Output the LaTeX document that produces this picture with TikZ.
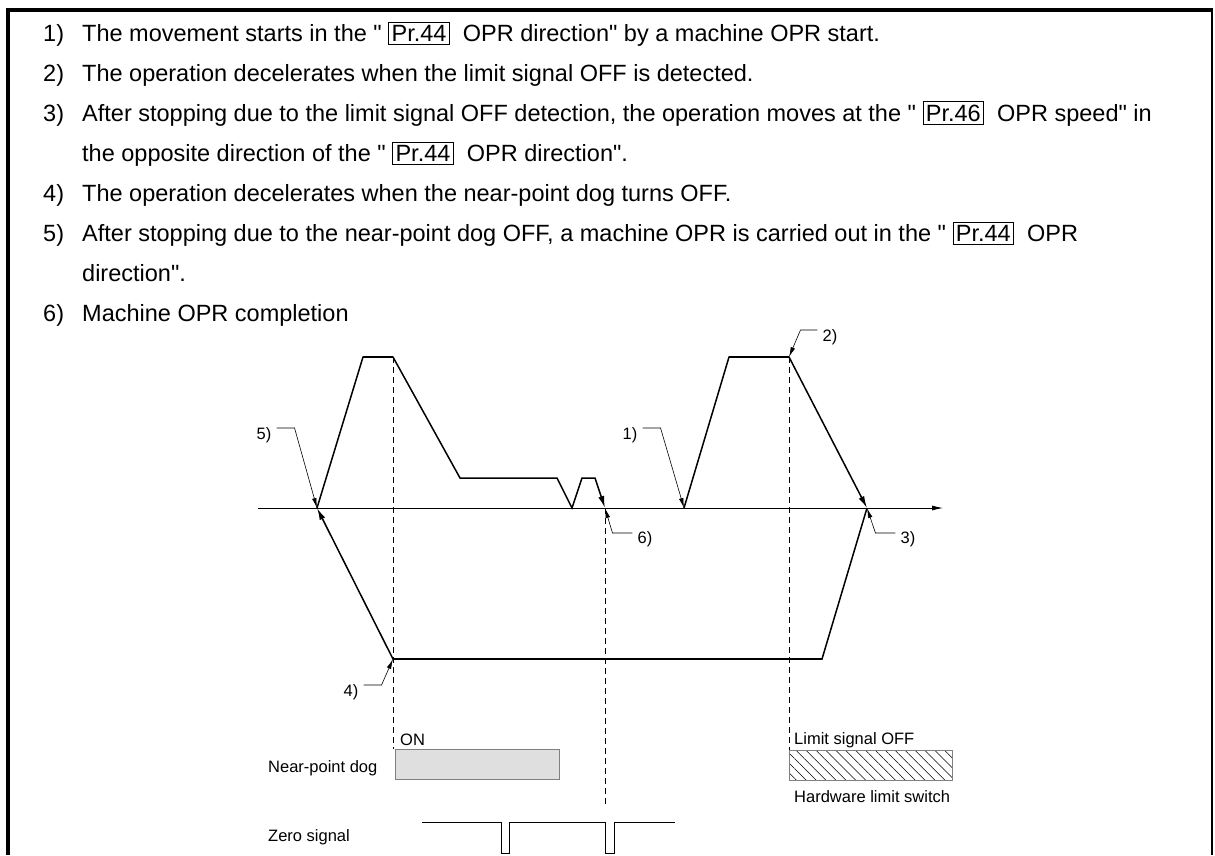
\documentclass[tikz,border=0pt]{standalone}
\usepackage{fontspec}
\setmainfont{Liberation Sans}[Ligatures=TeXOff]
\usepackage{tikz}
\usetikzlibrary{arrows.meta,patterns.meta}

\newcommand{\prbox}[1]{{\setlength{\fboxsep}{2.5pt}\setlength{\fboxrule}{0.8pt}\fbox{Pr.#1}}}

\begin{document}
\begin{tikzpicture}[x=1pt,y=-1pt,
  txt/.style={anchor=base west,inner sep=0pt,font=\fontsize{23.5}{28}\selectfont},
  lbl/.style={inner sep=0pt,font=\fontsize{16.5}{19}\selectfont},
  wave/.style={line width=1.5pt,line join=miter,-{Latex[length=12pt,width=6pt]}},
  flat/.style={line width=2.6pt},
  leader/.style={line width=0.6pt,-{Latex[length=10pt,width=4.5pt]}},
  guide/.style={line width=0.7pt,dash pattern=on 6pt off 4pt}]
  \useasboundingbox (0,0) rectangle (1215,855);
  % Frame
  \draw[line width=4pt] (8,855) -- (8,10) -- (1213,10);
  \draw[line width=2.5pt] (1212,10) -- (1212,855);
  % Notes
  \node[txt] (n1) at (43,41) {1)};
  \node[txt] (t1) at (82,41) {The movement starts in the " \prbox{44}\ \ OPR direction" by a machine OPR start.};
  \node[txt] (n2) at (43,81) {2)};
  \node[txt] (t2) at (82,81) {The operation decelerates when the limit signal OFF is detected.};
  \node[txt] (n3) at (43,121) {3)};
  \node[txt] (t3) at (82,121) {After stopping due to the limit signal OFF detection, the operation moves at the " \prbox{46}\ \ OPR speed" in};
  \node[txt] (t3b) at (82,161) {the opposite direction of the " \prbox{44}\ \ OPR direction".};
  \node[txt] (n4) at (43,201) {4)};
  \node[txt] (t4) at (82,201) {The operation decelerates when the near-point dog turns OFF.};
  \node[txt] (n5) at (43,241) {5)};
  \node[txt] (t5) at (82,241) {After stopping due to the near-point dog OFF, a machine OPR is carried out in the " \prbox{44}\ \ OPR};
  \node[txt] (t5b) at (82,281) {direction".};
  \node[txt] (n6) at (43,321) {6)};
  \node[txt] (t6) at (82,321) {Machine OPR completion};
  % Waveform points
  \coordinate (a1) at (684,508);
  \coordinate (a2) at (729,357);
  \coordinate (a3) at (789,357);
  \coordinate (a4) at (867,508);
  \coordinate (b1) at (822,659);
  \coordinate (b2) at (393,659);
  \coordinate (b3) at (317,508);
  \coordinate (c1) at (363,357);
  \coordinate (c2) at (393,357);
  \coordinate (c3) at (460,478);
  \coordinate (c4) at (557,478);
  \coordinate (c5) at (572,508);
  \coordinate (c6) at (582,478);
  \coordinate (c7) at (595,478);
  \coordinate (c8) at (605,508);
  % Axis
  \draw[line width=0.8pt,-{Latex[length=11pt,width=5pt]}] (258,508) -- (943,508);
  % Guides
  \draw[guide] (c2) -- (393,749);
  \draw[guide] (c8) -- (605,805);
  \draw[guide] (a3) -- (789,750);
  % Movement
  \draw[wave] (a1) -- (a2) -- (a3) -- (a4);
  \draw[wave] (a4) -- (b1) -- (b2) -- (b3);
  \draw[wave] (b3) -- (c1) -- (c2) -- (c3) -- (c4) -- (c5) -- (c6) -- (c7) -- (c8);
  \draw[flat] (a2) -- (a3);
  \draw[flat] (c1) -- (c2);
  \draw[flat] (b1) -- (b2);
  % Step labels
  \node[lbl] (l1) at (630,435) {1)};
  \node[lbl] (l2) at (830,337) {2)};
  \node[lbl] (l3) at (908,539) {3)};
  \node[lbl] (l4) at (351,692) {4)};
  \node[lbl] (l5) at (264,435) {5)};
  \node[lbl] (l6) at (645,539) {6)};
  \draw[leader] (l1.east) ++(5,-7) -- ++(18,0) -- (a1);
  \draw[leader] (l2.west) ++(-5,-7) -- ++(-17,0) -- (a3);
  \draw[leader] (l3.west) ++(-5,-6) -- ++(-20,0) -- (a4);
  \draw[leader] (l4.east) ++(5,-7) -- ++(18,0) -- (b2);
  \draw[leader] (l5.east) ++(5,-7) -- ++(18,0) -- (b3);
  \draw[leader] (l6.west) ++(-5,-6) -- ++(-20,0) -- (c8);
  % Near-point dog
  \draw[gray,fill=gray!25] (395,749) rectangle (559,779);
  \node[lbl,anchor=west] (on) at (400,740) {ON};
  \node[lbl,anchor=west] (dog) at (268,768) {Near-point dog};
  % Hardware limit switch
  \draw[gray,pattern={Lines[angle=-45,distance=7pt,line width=0.5pt]}] (789,750) rectangle (952,780);
  \node[lbl,anchor=west] (lim) at (794,740) {Limit signal OFF};
  \node[lbl,anchor=west] (hw) at (794,797) {Hardware limit switch};
  % Zero signal
  \node[lbl,anchor=west] (zero) at (268,837) {Zero signal};
  \draw[line width=0.8pt] (422,822) -- (501,822) -- (501,853) -- (509,853) -- (509,822)
    -- (605,822) -- (605,853) -- (614,853) -- (614,822) -- (675,822);
\end{tikzpicture}
\end{document}
